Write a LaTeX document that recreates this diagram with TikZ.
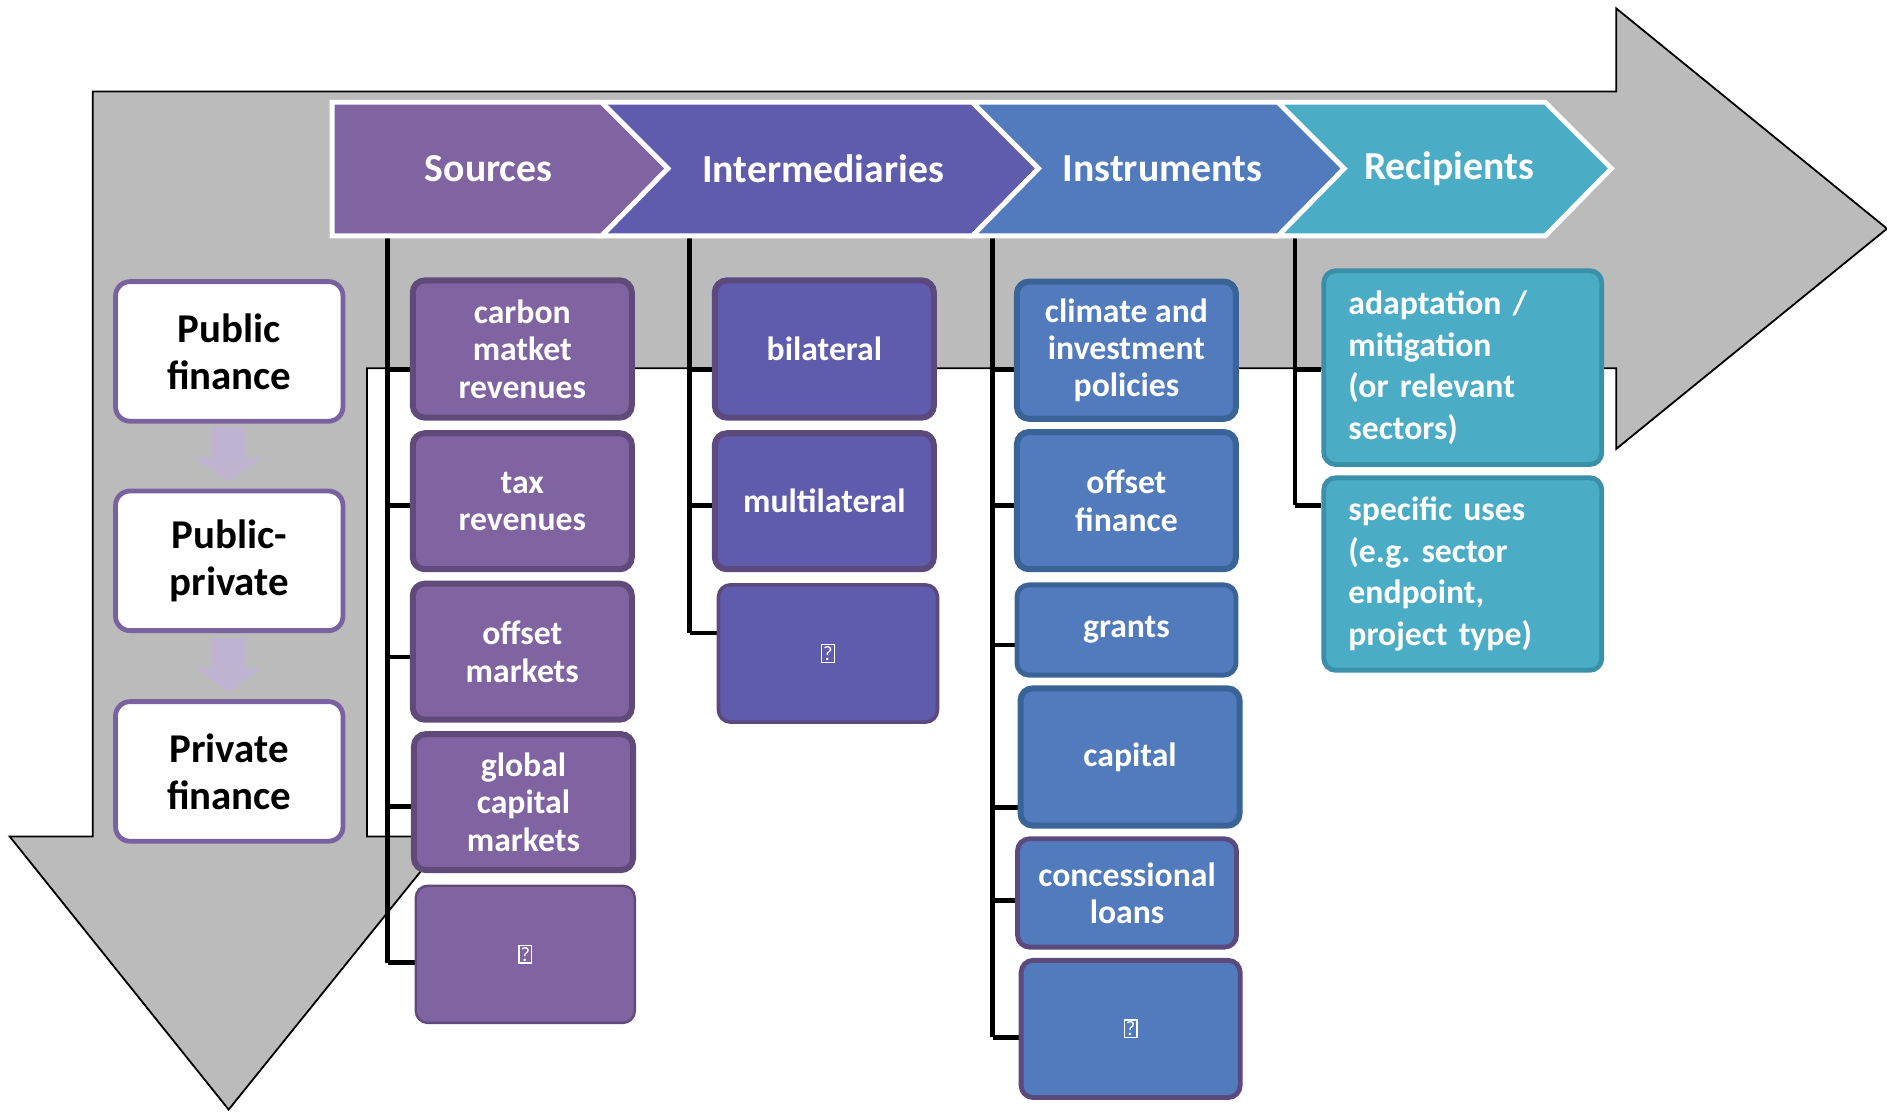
\documentclass[tikz,border=0pt]{standalone}
\usepackage{fontspec}
\setmainfont{Carlito}
\frenchspacing
\definecolor{grayarrow}{HTML}{BBBBBB}
\definecolor{srcc}{HTML}{8064A2}
\definecolor{srcd}{HTML}{5F4A7A}
\definecolor{intc}{HTML}{5F5BAD}
\definecolor{intd}{HTML}{5C4A7E}
\definecolor{insc}{HTML}{517BBC}
\definecolor{insd}{HTML}{3A6397}
\definecolor{recc}{HTML}{4BACC6}
\definecolor{recd}{HTML}{3A8FA9}
\definecolor{leftd}{HTML}{7A62A0}
\definecolor{lightarr}{HTML}{BEB4D1}
\pgfdeclarelayer{bg}
\pgfsetlayers{bg,main}
\newcommand\qbox{{\fontsize{17}{17}\selectfont\mdseries\setlength\fboxsep{0.8pt}\setlength\fboxrule{1.2pt}\fbox{?}}}
\tikzset{
  box/.style={rectangle, rounded corners=10pt, line width=5pt, text=white,
    font=\fontsize{28}{31}\selectfont\bfseries, align=center, inner sep=2pt, minimum width=182pt},
  srcbox/.style={box, fill=srcc, draw=srcd},
  intbox/.style={box, fill=intc, draw=intd},
  insbox/.style={box, fill=insc, draw=insd},
  recbox/.style={box, fill=recc, draw=recd, line width=4pt, minimum width=231pt, text width=190pt, align=left,
    font=\fontsize{28}{34.5}\selectfont\bfseries},
  leftbox/.style={rectangle, rounded corners=12pt, line width=4pt, fill=white, draw=leftd,
    minimum width=189pt, minimum height=116pt, align=center, font=\fontsize{34}{39}\selectfont\bfseries},
  chev/.style={draw=white, line width=4pt, line join=miter},
  head/.style={text=white, font=\fontsize{33}{36}\selectfont\bfseries},
  conn/.style={draw=black, line width=4pt},
}
\begin{document}
\begin{tikzpicture}[x=1pt,y=-1pt]
\useasboundingbox (0,0) rectangle (1568,924);
% big bent arrow
\begin{pgfonlayer}{bg}
\path[fill=grayarrow, draw=black, line width=1.5pt, line join=miter]
  (77,76) -- (1343,76) -- (1343,7) -- (1568,190) -- (1343,373) -- (1343,306)
  -- (305,306) -- (305,695) -- (373,695) -- (190,922) -- (8,695) -- (77,695) -- cycle;
\end{pgfonlayer}
% chevrons
\path[chev, fill=srcc] (276,85) -- (500,85) -- (555,140) -- (500,196) -- (276,196) -- cycle;
\path[chev, fill=intc] (500,85) -- (808,85) -- (863,140) -- (808,196) -- (500,196) -- (555,140) -- cycle;
\path[chev, fill=insc] (808,85) -- (1062,85) -- (1117,140) -- (1062,196) -- (808,196) -- (863,140) -- cycle;
\path[chev, fill=recc] (1062,85) -- (1284,85) -- (1339,140) -- (1284,196) -- (1062,196) -- (1117,140) -- cycle;
\node[head] (hS) at (406,140) {Sources};
\node[head] (hI) at (684,140) {Intermediaries};
\node[head] (hN) at (966,140) {Instruments};
\node[head] (hR) at (1204,140) {Recipients};
\coordinate (cS) at (322,198);
\coordinate (cI) at (573,198);
\coordinate (cN) at (825,198);
\coordinate (cR) at (1076,198);
% left boxes
\node[leftbox] (pub) at (190.5,292) {Public\\finance};
\node[leftbox] (pp) at (190.5,466) {Public-\\private};
\node[leftbox] (priv) at (190.5,641) {Private\\finance};
\fill[lightarr] (176,355) rectangle (204,380);
\fill[lightarr] (162,380) -- (218,380) -- (190,400) -- cycle;
\fill[lightarr] (176,530) rectangle (204,555);
\fill[lightarr] (162,555) -- (218,555) -- (190,575) -- cycle;
% boxes
\node[srcbox, minimum height=114pt] (s1) at (434,290) {carbon\\matket\\revenues};
\node[srcbox, minimum height=113pt] (s2) at (434,416.5) {tax\\revenues};
\node[srcbox, minimum height=113pt] (s3) at (434,541.5) {offset\\markets};
\node[srcbox, minimum height=113pt] (s4) at (435,666.5) {global\\capital\\markets};
\node[srcbox, minimum height=114pt, line width=2pt] (s5) at (436.5,793) {\qbox};
\node[intbox, minimum height=114pt] (i1) at (685,290) {bilateral};
\node[intbox, minimum height=113pt] (i2) at (685,416.5) {multilateral};
\node[intbox, minimum height=114pt, line width=3pt] (i3) at (688,543) {\qbox};
\node[insbox, minimum height=114pt] (n1) at (936,291) {climate and\\investment\\policies};
\node[insbox, minimum height=114pt] (n2) at (936,416) {offset\\finance};
\node[insbox, minimum height=75pt, line width=4pt] (n3) at (936,523.5) {grants};
\node[insbox, minimum height=114pt] (n4) at (939,629) {capital};
\node[insbox, minimum height=90pt, draw=intd, line width=4pt] (n5) at (936.5,742) {concessional\\loans};
\node[insbox, minimum height=114pt, draw=intd, line width=4pt] (n6) at (939.5,855) {\qbox};
\node[recbox, minimum height=161pt] (r1) at (1215.5,305.5) {adaptation /\\mitigation\\(or relevant\\sectors)};
\node[recbox, minimum height=160pt] (r2) at (1215.5,477) {specific uses\\(e.g. sector\\endpoint,\\project type)};
% connectors
\begin{pgfonlayer}{bg}
\draw[conn] (cS) -- (cS |- 0,800);
\foreach \b/\y in {s1/307, s2/420, s3/546, s4/670, s5/800}{
  \draw[conn] (cS |- 0,\y) -- (\b.west |- 0,\y);
}
\draw[conn] (cI) -- (cI |- 0,526);
\foreach \b/\y in {i1/307, i2/420, i3/526}{
  \draw[conn] (cI |- 0,\y) -- (\b.west |- 0,\y);
}
\draw[conn] (cN) -- (cN |- 0,862);
\foreach \b/\y in {n1/307, n2/420, n3/536, n4/671, n5/748, n6/862}{
  \draw[conn] (cN |- 0,\y) -- (\b.west |- 0,\y);
}
\draw[conn] (cR) -- (cR |- 0,420);
\foreach \b/\y in {r1/307, r2/420}{
  \draw[conn] (cR |- 0,\y) -- (\b.west |- 0,\y);
}
\end{pgfonlayer}
\end{tikzpicture}
\end{document}
